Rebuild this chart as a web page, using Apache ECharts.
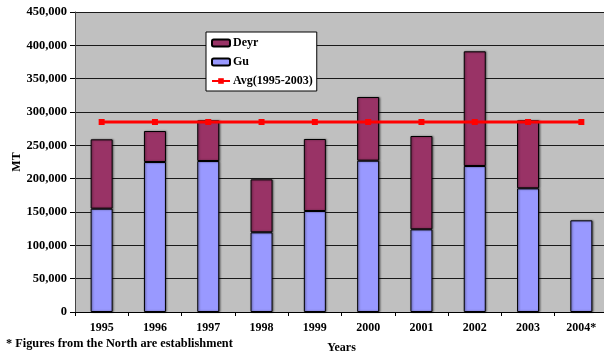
<!DOCTYPE html>
<html>
<head>
<meta charset="utf-8">
<script src="https://cdn.jsdelivr.net/npm/echarts@6/dist/echarts.min.js"></script>
<style>
  html, body { margin: 0; padding: 0; background: #fff; }
  #chart { width: 604px; height: 354px; }
</style>
</head>
<body>
<div id="chart"></div>
<script>
// Annual production (MT) by season
const years = ['1995', '1996', '1997', '1998', '1999', '2000', '2001', '2002', '2003', '2004*'];
const gu = [155000, 225000, 226500, 119500, 151500, 227000, 124000, 219000, 185500, 137500];
const deyr = [104000, 46500, 61000, 79500, 108000, 95500, 140000, 172000, 102000, null];
const avg9503 = [285000, 285000, 285000, 285000, 285000, 285000, 285000, 285000, 285000, 285000];
const yTicks = [0, 50000, 100000, 150000, 200000, 250000, 300000, 350000, 400000, 450000];

const serif = '"Liberation Serif", "Times New Roman", serif';
const fmt = v => v.toString().replace(/\B(?=(\d{3})+(?!\d))/g, ',');

const barShadow = {
  shadowColor: 'rgba(0,0,0,0.45)',
  shadowBlur: 2,
  shadowOffsetX: 1,
  shadowOffsetY: 0
};

const chart = echarts.init(document.getElementById('chart'), null, { renderer: 'canvas' });
chart.setOption({
  animation: false,
  backgroundColor: '#ffffff',
  title: {
    text: '* Figures from the North are establishment',
    left: 6,
    top: 338,
    padding: 0,
    textStyle: { fontFamily: serif, fontWeight: 'bold', fontSize: 12.3, color: '#000' }
  },
  legend: {
    data: ['Deyr', 'Gu', 'Avg(1995-2003)'],
    orient: 'vertical',
    left: 206,
    top: 32,
    backgroundColor: '#ffffff',
    borderColor: '#000',
    borderWidth: 1,
    borderRadius: 0,
    padding: [5, 4, 4, 5],
    itemGap: 7,
    itemWidth: 18,
    itemHeight: 7,
    textStyle: { fontFamily: serif, fontWeight: 'bold', fontSize: 12, color: '#000', padding: [0, 0, 0, -2] }
  },
  grid: { left: 75, right: -4, top: 12, bottom: 42, containLabel: false, outerBoundsMode: 'none',
          show: true, backgroundColor: '#C0C0C0', borderWidth: 0 },
  xAxis: {
    type: 'category',
    data: years,
    name: 'Years',
    nameLocation: 'middle',
    nameGap: 30,
    nameMoveOverlap: false,
    nameTextStyle: { fontFamily: serif, fontWeight: 'bold', fontSize: 12, color: '#000' },
    axisLine: { lineStyle: { color: '#000', width: 1 } },
    axisTick: { show: true, length: 4, lineStyle: { color: '#000' } },
    axisLabel: { fontFamily: serif, fontWeight: 'bold', fontSize: 12, color: '#000', margin: 10 },
    splitLine: { show: false }
  },
  yAxis: {
    type: 'value',
    min: yTicks[0],
    max: yTicks[yTicks.length - 1],
    interval: yTicks[1] - yTicks[0],
    name: 'MT',
    nameLocation: 'middle',
    nameRotate: 90,
    nameGap: 52,
    nameMoveOverlap: false,
    nameTextStyle: { fontFamily: serif, fontWeight: 'bold', fontSize: 12, color: '#000' },
    axisLine: { show: true, lineStyle: { color: '#444', width: 1 } },
    axisTick: { show: true, length: 5, lineStyle: { color: '#000' } },
    axisLabel: { fontFamily: serif, fontWeight: 'bold', fontSize: 12.5, color: '#000', margin: 8, formatter: fmt },
    splitLine: { show: true, lineStyle: { color: '#1a1a1a', width: 1 } }
  },
  series: [
    {
      name: 'Gu',
      type: 'bar',
      stack: 'total',
      data: gu,
      barWidth: 22,
      itemStyle: Object.assign({ color: '#9999FF', borderColor: '#000', borderWidth: 1 }, barShadow),
      z: 2
    },
    {
      name: 'Deyr',
      type: 'bar',
      stack: 'total',
      data: deyr,
      barWidth: 22,
      itemStyle: Object.assign({ color: '#993366', borderColor: '#000', borderWidth: 1 }, barShadow),
      z: 2
    },
    {
      name: 'Avg(1995-2003)',
      type: 'line',
      data: avg9503,
      symbol: 'rect',
      symbolSize: 6,
      lineStyle: { color: '#FF0000', width: 3 },
      itemStyle: { color: '#FF0000' },
      z: 5
    }
  ]
});
</script>
</body>
</html>
